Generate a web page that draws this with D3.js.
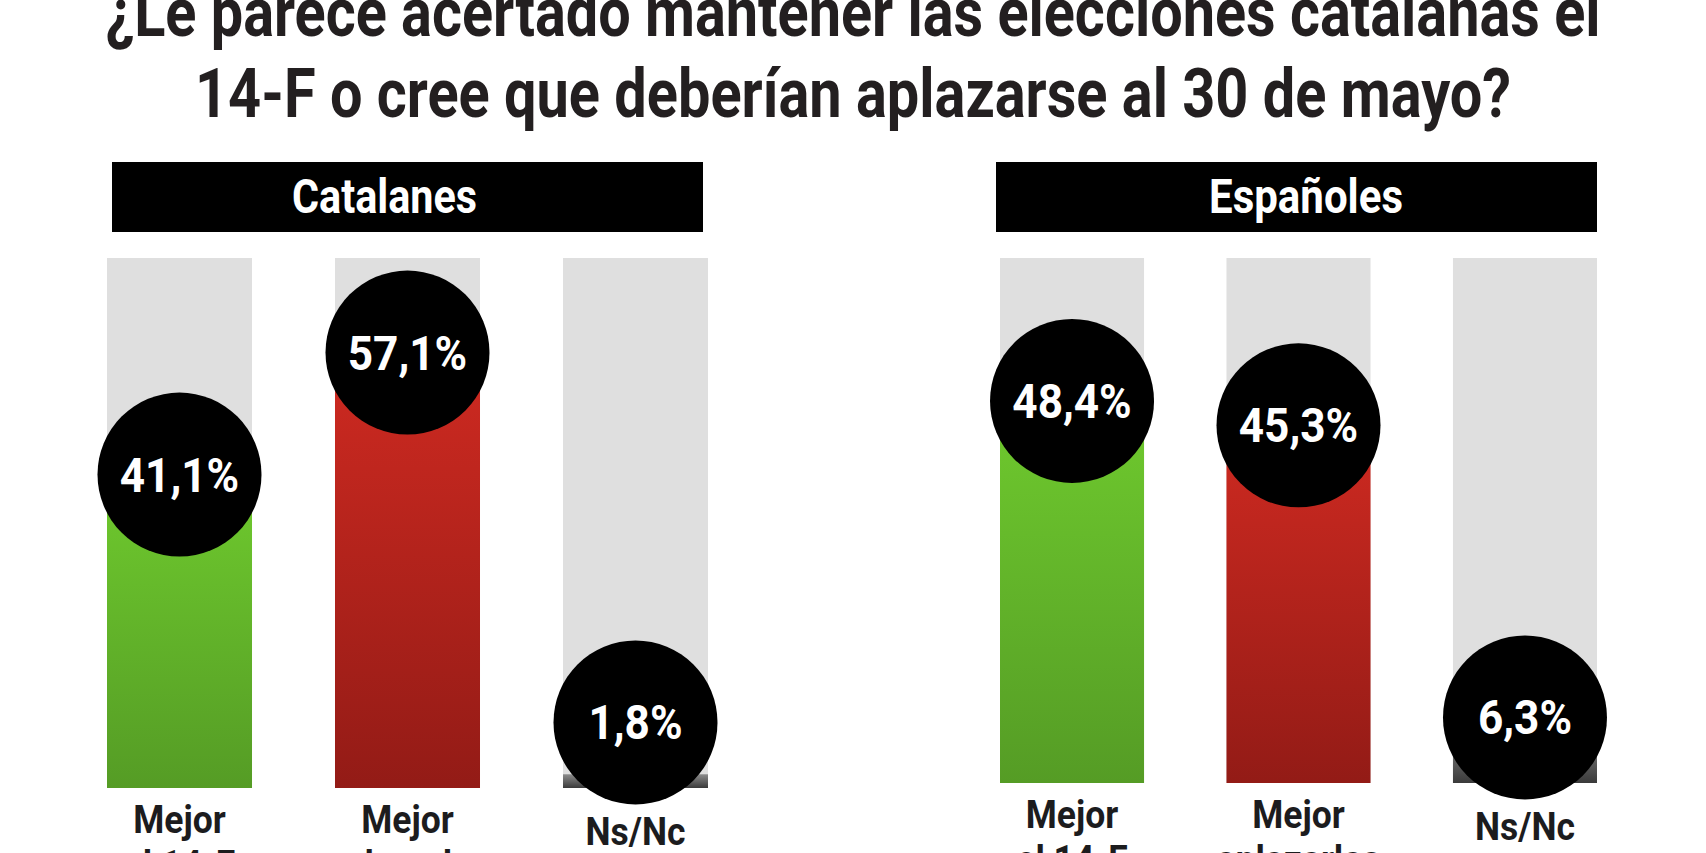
<!DOCTYPE html>
<html>
<head>
<meta charset="utf-8">
<script src="https://cdnjs.cloudflare.com/ajax/libs/d3/7.8.5/d3.min.js"></script>
<style>
  html, body { margin: 0; padding: 0; background: #fff; }
  svg { display: block; font-family: Roboto, "Open Sans", sans-serif; font-weight: 700; }
</style>
</head>
<body>
<div id="chart"></div>
<script>
// Encuesta: elecciones catalanas 14-F
var titleLines = ["¿Le parece acertado mantener las elecciones catalanas el",
                  "14-F o cree que deberían aplazarse al 30 de mayo?"];
var groups = ["Catalanes", "Españoles"];
var categories = ["Mejor el 14-F", "Mejor aplazarlas", "Ns/Nc"];
var categoryLines = [["Mejor", "el 14-F"], ["Mejor", "aplazarlas"], ["Ns/Nc"]];
var catalanesValues = [41.1, 57.1, 1.8];
var espanolesValues = [48.4, 45.3, 6.3];

var width = 1706,
	height = 853,
	r = 82;

var svg = d3.select("#chart").append("svg")
	.attr("width", width)
	.attr("height", height);

var locale = d3.formatLocale({decimal: ",", thousands: ".", grouping: [3], currency: ["", "€"]}),
	fmt = locale.format(".1f");

// gradients for the three bar kinds
var defs = svg.append("defs");
var grads = [
	{id: "g-green", top: "#6fca2e", bottom: "#559c25"},
	{id: "g-red", top: "#cf2a21", bottom: "#931b16"},
	{id: "g-dark", top: "#8c8c8c", bottom: "#3a3a3a"}
];
grads.forEach(function(g) {
	var lg = defs.append("linearGradient")
		.attr("id", g.id)
		.attr("x1", 0).attr("y1", 0).attr("x2", 0).attr("y2", 1);
	lg.append("stop").attr("offset", "0%").attr("stop-color", g.top);
	lg.append("stop").attr("offset", "100%").attr("stop-color", g.bottom);
});

// title
svg.selectAll(".title")
	.data(titleLines)
	.enter().append("text")
		.attr("class", "title")
		.attr("x", 853)
		.attr("y", function(d, i) { return 36 + i * 81; })
		.attr("text-anchor", "middle")
		.attr("textLength", function(d, i) { return i === 0 ? 1495 : 1316; })
		.attr("lengthAdjust", "spacingAndGlyphs")
		.style("font-size", "69px")
		.style("fill", "#231f20")
		.text(function(d) { return d; });

var panels = [
	{name: groups[0], values: catalanesValues, range: [107, 708], box: [112, 703], textX: 384.5, textLen: 185, bottom: 788, maxY: 69.5},
	{name: groups[1], values: espanolesValues, range: [1000, 1597], box: [996, 1597], textX: 1306, textLen: 194, bottom: 783, maxY: 66.5}
];

panels.forEach(function(p) {
	var g = svg.append("g");

	var x = d3.scaleBand().domain(categories).range(p.range).paddingInner(0.364).paddingOuter(0),
		y = d3.scaleLinear().domain([0, p.maxY]).range([p.bottom, 258]);

	// header box
	g.append("rect")
		.attr("x", p.box[0])
		.attr("y", 162)
		.attr("width", p.box[1] - p.box[0])
		.attr("height", 70)
		.style("fill", "#000");

	g.append("text")
		.attr("x", p.textX)
		.attr("y", 213)
		.attr("text-anchor", "middle")
		.attr("textLength", p.textLen)
		.attr("lengthAdjust", "spacingAndGlyphs")
		.style("font-size", "48px")
		.style("fill", "#fff")
		.text(p.name);

	var data = categories.map(function(c, i) { return {cat: c, value: p.values[i], i: i}; });

	// grey background
	g.selectAll(".bg")
		.data(data)
		.enter().append("rect")
			.attr("class", "bg")
			.attr("x", function(d) { return x(d.cat); })
			.attr("y", y(p.maxY))
			.attr("width", x.bandwidth())
			.attr("height", y(0) - y(p.maxY))
			.style("fill", "#dfdfdf");

	g.selectAll(".bar")
		.data(data)
		.enter().append("rect")
			.attr("class", "bar")
			.attr("x", function(d) { return x(d.cat); })
			.attr("y", function(d) { return y(d.value); })
			.attr("width", x.bandwidth())
			.attr("height", function(d) { return y(0) - y(d.value); })
			.style("fill", function(d) { return "url(#" + grads[d.i].id + ")"; });

	var cy = function(d) { return Math.min(y(d.value), y(0) - 0.8 * r); };

	g.selectAll(".dot")
		.data(data)
		.enter().append("circle")
			.attr("class", "dot")
			.attr("cx", function(d) { return x(d.cat) + x.bandwidth() / 2; })
			.attr("cy", cy)
			.attr("r", r)
			.style("fill", "#000");

	g.selectAll(".val")
		.data(data)
		.enter().append("text")
			.attr("class", "val")
			.attr("x", function(d) { return x(d.cat) + x.bandwidth() / 2; })
			.attr("y", function(d) { return cy(d) + 17; })
			.attr("text-anchor", "middle")
			.style("font-size", "49px")
			.style("fill", "#fff")
			.text(function(d) { return fmt(d.value) + "%"; })
			.attr("textLength", function() { return this.getComputedTextLength() * 0.9; })
			.attr("lengthAdjust", "spacingAndGlyphs");

	// category labels
	data.forEach(function(d) {
		var lines = categoryLines[d.i];
		lines.forEach(function(line, k) {
			var base = lines.length === 1 ? p.bottom + 57 : p.bottom + 45 + k * 45;
			g.append("text")
				.attr("x", x(d.cat) + x.bandwidth() / 2)
				.attr("y", base)
				.attr("text-anchor", "middle")
				.style("font-size", "39px")
				.style("fill", "#1c1c1e")
				.text(line)
				.attr("textLength", function() { return this.getComputedTextLength() * 0.91; })
				.attr("lengthAdjust", "spacingAndGlyphs");
		});
	});
});
</script>
</body>
</html>
